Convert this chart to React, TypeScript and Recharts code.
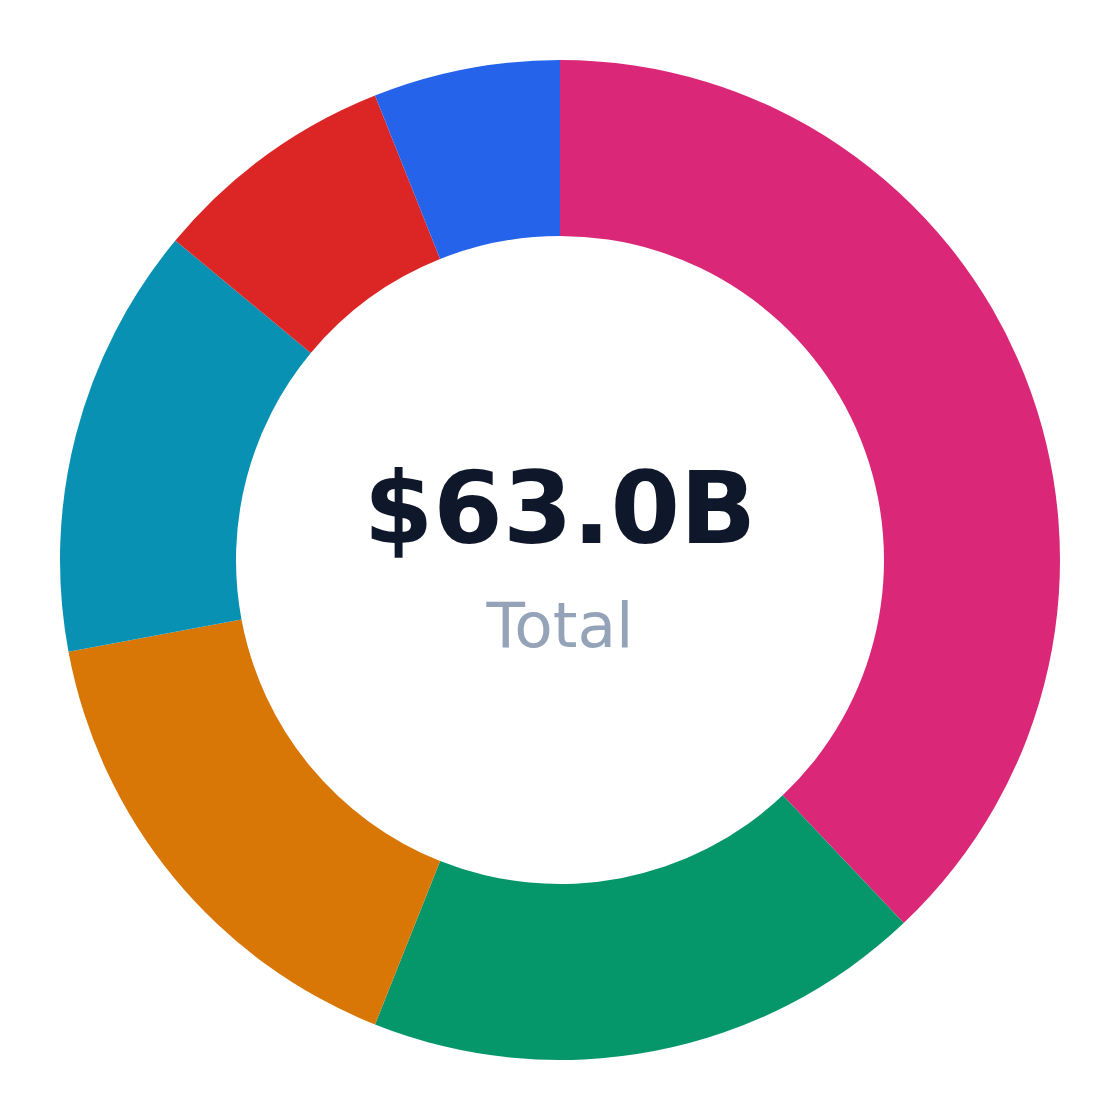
import React from "react";
import { PieChart, Pie, Cell, Label } from "recharts";

const categories = ["Segment A", "Segment B", "Segment C", "Segment D", "Segment E", "Segment F"];
const values = [23.9, 11.4, 10.1, 8.8, 5.0, 3.8];
const colors = ["#db2777", "#059669", "#d97706", "#0891b2", "#dc2626", "#2563eb"];
const totalLabel = "$63.0B";
const subLabel = "Total";

const data = categories.map((name, i) => ({ name, value: values[i] }));

const CenterLabel = (props: any) => {
  const vb = props.viewBox || {};
  const cx = vb.cx ?? 552;
  const cy = vb.cy ?? 552;
  return (
    <g>
      <text
        x={cx}
        y={cy - 17}
        textAnchor="middle"
        fontFamily="DejaVu Sans"
        fontWeight="bold"
        fontSize={100}
        fill="#0f172a"
      >
        {totalLabel}
      </text>
      <text
        x={cx}
        y={cy + 87}
        textAnchor="middle"
        fontFamily="DejaVu Sans"
        fontSize={63}
        fill="#94a3b8"
      >
        {subLabel}
      </text>
    </g>
  );
};

export default function App() {
  return (
    <div style={{ width: 1104, height: 1104 }}>
      <PieChart width={1104} height={1104} margin={{ top: 0, right: 0, bottom: 0, left: 0 }}>
        <Pie
          data={data}
          dataKey="value"
          nameKey="name"
          cx={552}
          cy={552}
          innerRadius={324}
          outerRadius={500}
          startAngle={90}
          endAngle={-270}
          stroke="none"
          isAnimationActive={false}
        >
          {data.map((d, i) => (
            <Cell key={d.name} fill={colors[i]} stroke="none" />
          ))}
          <Label content={<CenterLabel />} position="center" />
        </Pie>
      </PieChart>
    </div>
  );
}
